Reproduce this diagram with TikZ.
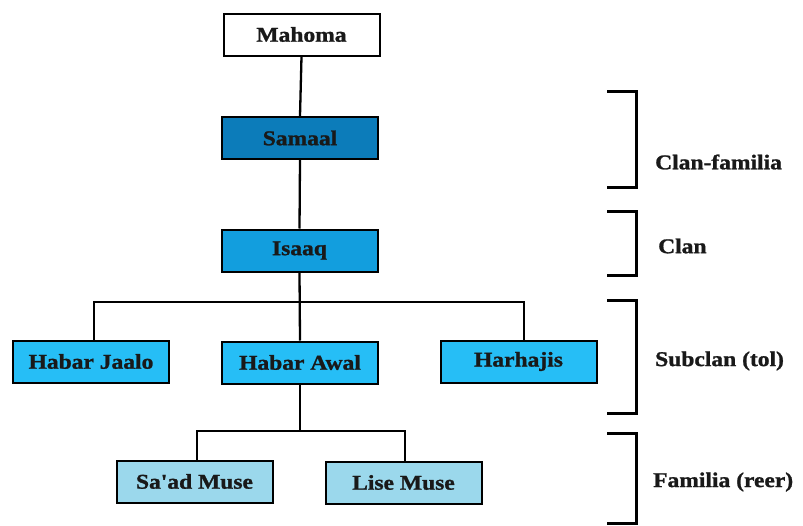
\documentclass[tikz,border=0pt]{standalone}
\usepackage{fontspec}
\newfontfamily\lab{Liberation Serif}[FakeStretch=1.12, BoldFeatures={FakeBold=1.2}]
\definecolor{cSamaal}{RGB}{12,124,186}
\definecolor{cIsaaq}{RGB}{18,158,222}
\definecolor{cSub}{RGB}{38,190,246}
\definecolor{cFam}{RGB}{155,216,236}
\begin{document}
\begin{tikzpicture}[x=1pt,y=-1pt,
  box/.style={draw=black, line width=2pt, minimum width=156pt, minimum height=42pt,
    inner sep=0pt, font=\lab\fontsize{21}{25}\selectfont\bfseries, text=black!90},
  link/.style={draw=black, line width=2.3pt},
  bracket/.style={draw=black, line width=3pt},
  level/.style={anchor=west, inner sep=0pt, font=\lab\fontsize{21}{25}\selectfont\bfseries, text=black!90}]
\useasboundingbox (0,0) rectangle (803,525);
\node[box, fill=white] (mahoma) at (301.5,34.5) {Mahoma};
\node[box, fill=cSamaal] (samaal) at (300,138) {Samaal};
\node[box, fill=cIsaaq] (isaaq) at (299.5,250.5) {Isaaq};
\node[box, fill=cSub] (jaalo) at (91,361.5) {Habar Jaalo};
\node[box, fill=cSub] (awal) at (300,362.5) {Habar Awal};
\node[box, fill=cSub] (harhajis) at (518.5,361.5) {Harhajis};
\node[box, fill=cFam] (saad) at (194.5,481.5) {Sa'ad Muse};
\node[box, fill=cFam] (lise) at (403.5,482.5) {Lise Muse};
\coordinate (b1) at (94,302);
\coordinate (b2) at (524,302);
\coordinate (c1) at (197,431);
\coordinate (c2) at (405,431);
\draw[link] (mahoma.south) -- (samaal.north);
\draw[link] (samaal.south) -- (isaaq.north);
\draw[link] (isaaq.south) -- (awal.north);
\draw[link] (jaalo.north -| b1) -- (b1) -- (b2) -- (harhajis.north -| b2);
\draw[link] (awal.south) -- (awal.south |- c1);
\draw[link] (saad.north -| c1) -- (c1) -- (c2) -- (lise.north -| c2);
\draw[bracket] (607,91) -- (636,91) -- (636,187) -- (607,187);
\draw[bracket] (607,211) -- (636,211) -- (636,275) -- (607,275);
\draw[bracket] (607,300) -- (636,300) -- (636,413) -- (607,413);
\draw[bracket] (607,433) -- (636,433) -- (636,523) -- (607,523);
\node[level] (l1) at (655,162) {Clan-familia};
\node[level] (l2) at (658,246) {Clan};
\node[level] (l3) at (655,361) {Subclan (tol)};
\node[level] (l4) at (653,482) {Familia (reer)};
\end{tikzpicture}
\end{document}
